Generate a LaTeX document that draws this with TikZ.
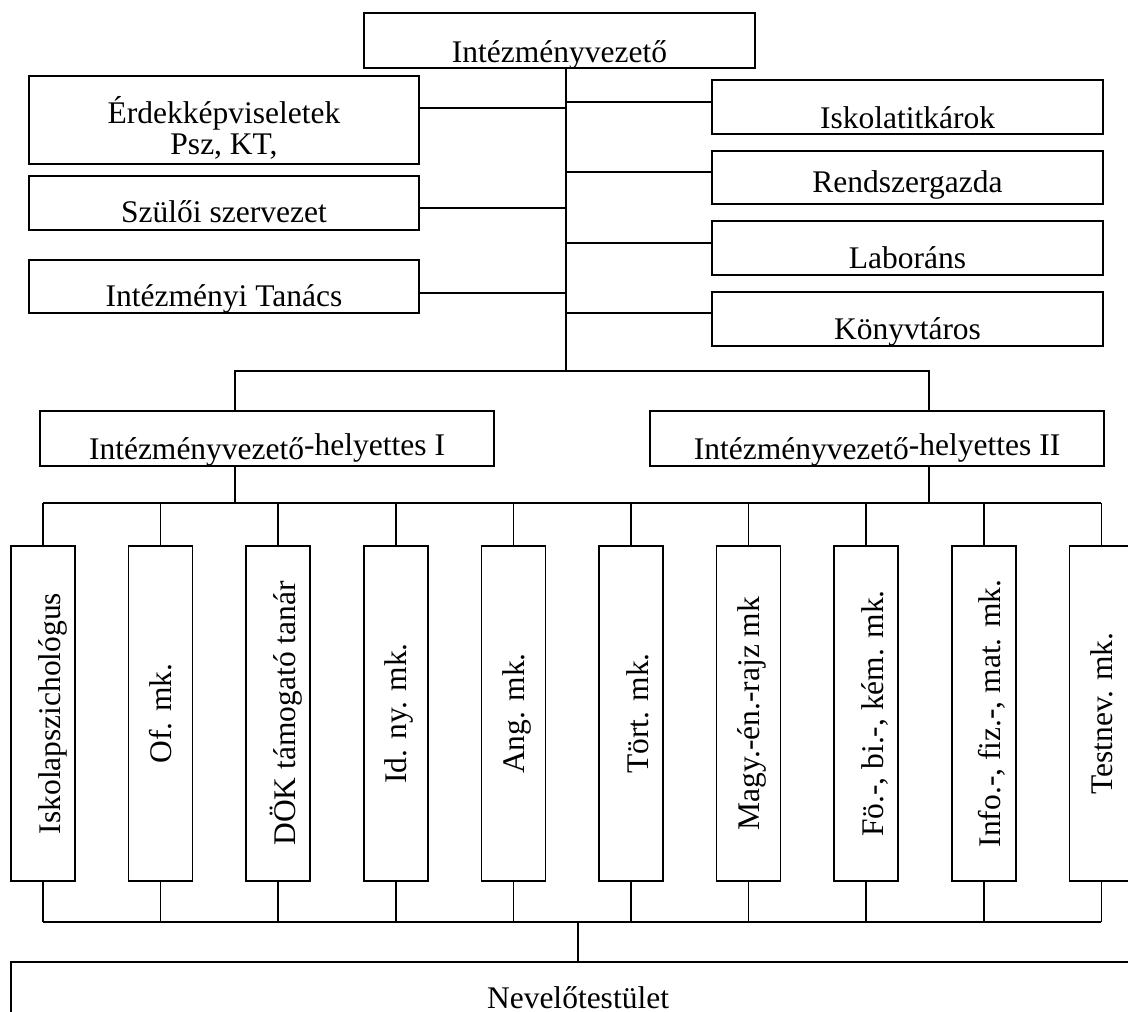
\documentclass[tikz,border=0pt]{standalone}
\usepackage{fontspec}
\setmainfont{Liberation Serif}
\begin{document}
\begin{tikzpicture}[x=1pt, y=-1pt, line width=1.6pt,
  box/.style={draw, inner sep=0pt, font=\fontsize{31.5}{31}\selectfont},
  wide/.style={box, minimum width=391pt},
  tall/.style={box, rotate=90, minimum width=335pt, minimum height=64pt}]
\useasboundingbox (0,0) rectangle (1128,1012);

% vezetes
\node[wide, minimum height=55pt, text height=49pt, text depth=6pt] (vez) at (559.5,40.5) {Intézményvezető};

\node[wide, minimum width=390pt, minimum height=88pt, align=center, text height=78pt, text depth=10pt] (erdek) at (224,120) {Érdekképviseletek\\Psz, KT,};
\node[wide, minimum width=390pt, minimum height=54pt, text height=46pt, text depth=8pt] (szulo) at (224,203) {Szülői szervezet};
\node[wide, minimum width=390pt, minimum height=53pt, text height=46pt, text depth=7pt] (tanacs) at (224,286.5) {Intézményi Tanács};

\node[wide, minimum height=54pt, text height=48pt, text depth=6pt] (titkar) at (907.5,107) {Iskolatitkárok};
\node[wide, minimum height=53pt, text height=41pt, text depth=12pt] (rendszer) at (907.5,177.5) {Rendszergazda};
\node[wide, minimum height=54pt, text height=47pt, text depth=7pt] (labor) at (907.5,248) {Laboráns};
\node[wide, minimum height=54pt, text height=47pt, text depth=7pt] (konyv) at (907.5,319) {Könyvtáros};

\node[box, minimum width=454pt, minimum height=55pt, text height=48pt, text depth=7pt] (dep1) at (267,438.5) {Intézményvezető\raisebox{4pt}{-helyettes I}};
\node[box, minimum width=454pt, minimum height=55pt, text height=48pt, text depth=7pt] (dep2) at (877,438.5) {Intézményvezető\raisebox{4pt}{-helyettes II}};

% munkakozossegek
\foreach \txt/\d [count=\i] in {Iskolapszichológus/15, Of. mk./21, DÖK támogató tanár/15,
    Id. ny. mk./21, Ang. mk./21, Tört. mk./15, Magy.-én.-rajz mk/21,
    {Fö.-, bi.-, kém. mk.}/15, {Info.-, fiz.-, mat. mk.}/15, Testnev. mk./21} {
  \pgfmathsetmacro\cx{43+117.6*(\i-1)}
  \pgfmathsetmacro\tht{64-\d}
  \node[tall, text height=\tht pt, text depth=\d pt] (b\i) at (\cx,713.5) {\txt};
}

\node[box, minimum width=1134pt, minimum height=54pt, text height=46pt, text depth=8pt] (nev) at (578,989) {Nevelőtestület};

% vonalak
\coordinate (fork) at (566,371);
\coordinate (f1) at (235,371);
\coordinate (f2) at (929,371);
\coordinate (g1) at (235,503);
\coordinate (g2) at (929,503);
\coordinate (h) at (578,922);

\draw (vez.south -| fork) -- (fork);
\foreach \n/\y in {erdek/108, szulo/208, tanacs/293}
  \draw (\n.east |- 0,\y) -- (fork |- 0,\y);
\foreach \n/\y in {titkar/102, rendszer/172, labor/243, konyv/313}
  \draw (\n.west |- 0,\y) -- (fork |- 0,\y);
\draw (f1 |- dep1.north) -- (f1) -- (f2) -- (f2 |- dep2.north);
\draw (g1 |- dep1.south) -- (g1);
\draw (g2 |- dep2.south) -- (g2);
\draw (b1.east |- g1) -- (b10.east |- g1);
\draw (b1.west |- h) -- (b10.west |- h);
\foreach \i in {1,...,10} {
  \draw (b\i.east) -- (b\i.east |- g1);
  \draw (b\i.west) -- (b\i.west |- h);
}
\draw (nev.north) -- (h);
\end{tikzpicture}
\end{document}
